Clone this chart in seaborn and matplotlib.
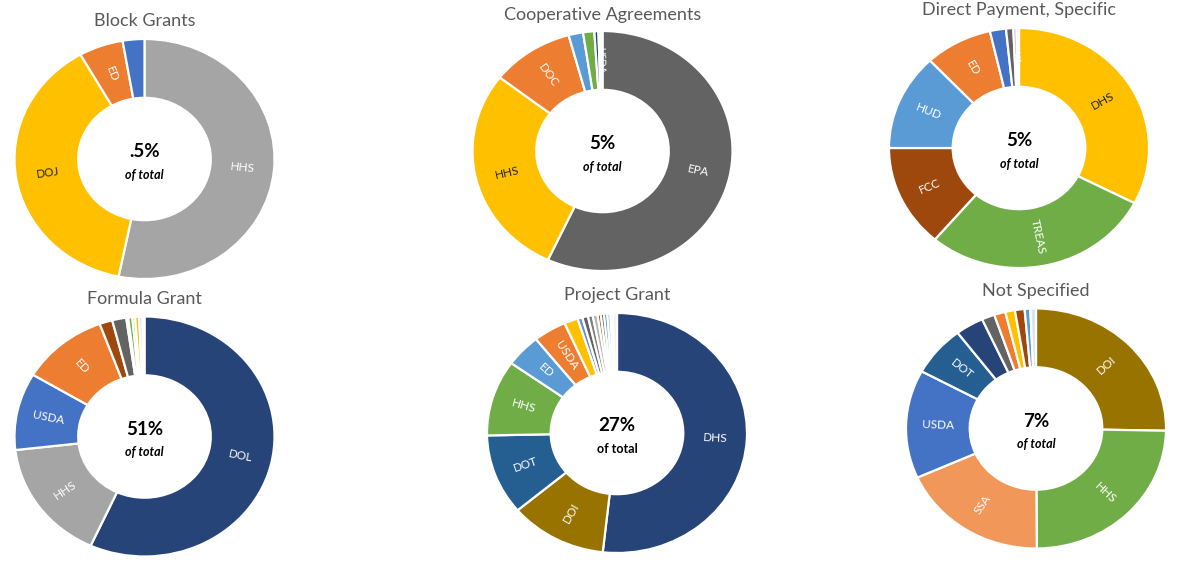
import math
import matplotlib
matplotlib.use("Agg")
import matplotlib.pyplot as plt
import seaborn as sns

sns.set_theme(style="white")
plt.rcParams['font.family'] = ['Lato', 'DejaVu Sans']

W, H = 1178, 563

# ---------------- data ----------------
block_names = ["HHS", "DOJ", "ED", "DOT"]
block_values = [53.2, 38.6, 5.5, 2.7]
block_labels = ["HHS", "DOJ", "ED", ""]
block_colors = ["#A5A5A5", "#FFC000", "#ED7D31", "#4472C4"]

coop_names = ["EPA", "HHS", "DOC", "DOI", "USDA2", "DOT", "USDA", "Other"]
coop_values = [56.9, 28.6, 10.3, 1.8, 1.4, 0.5, 0.3, 0.2]
coop_labels = ["EPA", "HHS", "DOC", "", "", "", "USDA", ""]
coop_colors = ["#636363", "#FFC000", "#ED7D31", "#5B9BD5", "#70AD47", "#264478", "#D0D0D0", "#E7E6E6"]

direct_names = ["DHS", "TREAS", "FCC", "HUD", "ED", "USDA", "DOL", "VA", "Other"]
direct_values = [32.6, 28.6, 13.8, 13.0, 8.4, 2.0, 0.9, 0.4, 0.3]
direct_labels = ["DHS", "TREAS", "FCC", "HUD", "ED", "", "", "VA", ""]
direct_colors = ["#FFC000", "#70AD47", "#9E480E", "#5B9BD5", "#ED7D31", "#4472C4", "#636363", "#A5A5A5", "#D9D9D9"]

formula_names = ["DOL", "HHS", "USDA", "ED", "FCC", "EPA", "Other1", "DOI", "Other2", "DHS", "Other3", "Other4"]
formula_values = [56.8, 16.4, 10.4, 10.8, 1.6, 1.75, 0.25, 0.5, 0.35, 0.5, 0.4, 0.25]
formula_labels = ["DOL", "HHS", "USDA", "ED", "", "", "", "", "", "", "", ""]
formula_colors = ["#264478", "#A5A5A5", "#4472C4", "#ED7D31", "#9E480E", "#636363", "#D9D9D9",
                  "#70AD47", "#A9D18E", "#FFC000", "#BDD7EE", "#EDEDED"]

project_names = ["DHS", "DOI", "DOT", "HHS", "ED", "USDA", "P7", "P8", "P9", "P10", "P11",
                 "P12", "P13", "P14", "P15", "P16", "P17"]
project_values = [51.7, 12.1, 10.8, 10.2, 4.4, 4.1, 1.7, 0.6, 0.7, 0.6, 0.6, 0.4, 0.4, 0.4, 0.4, 0.3, 0.5]
project_labels = ["DHS", "DOI", "DOT", "HHS", "ED", "USDA"] + [""] * 11
project_colors = ["#264478", "#997300", "#255E91", "#70AD47", "#5B9BD5", "#ED7D31", "#FFC000",
                  "#698ED0", "#636363", "#7F7F7F", "#B7B7B7", "#9E480E", "#43682B", "#4472C4",
                  "#9DC3E6", "#D9D9D9", "#F2F2F2"]

notspec_names = ["DOI", "HHS", "SSA", "USDA", "DOT", "DHS", "EPA", "ED", "VA", "FCC", "HUD", "Other"]
notspec_values = [25.3, 24.6, 18.4, 14.6, 6.8, 3.5, 1.6, 1.4, 1.2, 1.2, 0.7, 0.7]
notspec_labels = ["DOI", "HHS", "SSA", "USDA", "DOT", "", "", "", "", "", "", ""]
notspec_colors = ["#997300", "#70AD47", "#F1975A", "#4472C4", "#255E91", "#264478", "#636363",
                  "#ED7D31", "#FFC000", "#9E480E", "#5B9BD5", "#DAE3F3"]

titles = ["Block Grants", "Cooperative Agreements", "Direct Payment, Specific",
          "Formula Grant", "Project Grant", "Not Specified"]
shares = [".5%", "5%", "5%", "51%", "27%", "7%"]

charts = [
    (block_values, block_labels, block_colors),
    (coop_values, coop_labels, coop_colors),
    (direct_values, direct_labels, direct_colors),
    (formula_values, formula_labels, formula_colors),
    (project_values, project_labels, project_colors),
    (notspec_values, notspec_labels, notspec_colors),
]

# ---------------- layout (pixels) ----------------
centers = [(144.5, 159), (602.5, 151), (1019, 148), (144.5, 436.5), (617, 433), (1036, 428.5)]
title_y = [21, 15, 10, 299, 295, 291]
RX, RY = 130, 120
HOLE = 0.51
dark_text_colors = {"#FFC000"}

fig = plt.figure(figsize=(W / 100, H / 100), dpi=100)
fig.patch.set_facecolor("white")

for i, (vals, labs, cols) in enumerate(charts):
    cx, cy = centers[i]
    ax = fig.add_axes([(cx - RX) / W, (H - cy - RY) / H, 2 * RX / W, 2 * RY / H])
    wedges, _ = ax.pie(vals, colors=cols, startangle=90, counterclock=False, radius=1,
                       wedgeprops=dict(width=1 - HOLE, edgecolor="white", linewidth=1.6))
    ax.set_aspect("auto")
    ax.set_xlim(-1, 1)
    ax.set_ylim(-1, 1)
    ax.axis("off")
    total = sum(vals)
    cum = 0.0
    rlab = (1 + HOLE) / 2
    for v, lab, col in zip(vals, labs, cols):
        mid = (cum + v / 2) / total * 2 * math.pi
        cum += v
        if not lab:
            continue
        x = rlab * math.sin(mid)
        y = rlab * math.cos(mid)
        rot = math.degrees(math.atan2(RY * math.cos(mid), RX * math.sin(mid)))
        if rot > 90:
            rot -= 180
        elif rot <= -90:
            rot += 180
        tc = "#262626" if col in dark_text_colors else "white"
        fs = 7 if v < 1 else 8.5
        ax.text(x, y, lab, rotation=rot, rotation_mode="anchor", ha="center", va="center",
                fontsize=fs, color=tc)
    ax.text(0, 0.06, shares[i], ha="center", va="center", fontsize=13.5, fontweight="bold",
            color="black")
    ax.text(0, -0.13, "of total", ha="center", va="center", fontsize=9, fontweight="bold",
            fontstyle="normal" if i == 4 else "italic", color="black")
    fig.text(cx / W, 1 - title_y[i] / H, titles[i], ha="center", va="center",
             fontsize=13, color="#595959")

fig.savefig("out.png", dpi=100, facecolor="white")
